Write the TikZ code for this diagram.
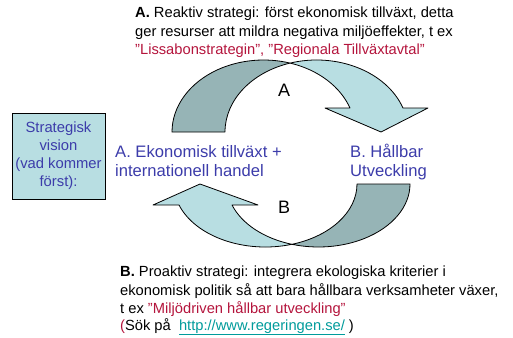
\documentclass[tikz,border=0pt]{standalone}
\usepackage{fontspec}
\setmainfont{Liberation Sans}
\definecolor{darkband}{HTML}{96B4B6}
\definecolor{lightband}{HTML}{B8DEE2}
\definecolor{bluetxt}{HTML}{3C3CAA}
\definecolor{redtxt}{HTML}{B4143C}
\definecolor{linktxt}{HTML}{009B9B}
\begin{document}
\begin{tikzpicture}[x=1pt,y=-1pt,
  band/.style={draw=black,line width=0.8pt,line join=round},
  darkpart/.style={band,fill=darkband},
  lightpart/.style={band,fill=lightband},
  txt/.style={anchor=base west,inner sep=0pt,font=\fontsize{14.7}{18}\selectfont},
  midtxt/.style={anchor=base west,inner sep=0pt,text=bluetxt,font=\fontsize{16.6}{19}\selectfont},
  letter/.style={inner sep=0pt,font=\fontsize{18}{20}\selectfont},
  visionbox/.style={draw=black,line width=0.8pt,fill=lightband,text=bluetxt,align=center,
    minimum width=93pt,minimum height=86pt,inner sep=0pt,font=\fontsize{14.8}{18}\selectfont}
]
\useasboundingbox (0,0) rectangle (513,337);

% ---------- upper curved arrow (A) ----------
\filldraw[darkpart] (172,132)
  arc[start angle=180,end angle=286.82,x radius=91.6,y radius=72] coordinate (topX)
  arc[start angle=253.18,end angle=180,x radius=91.6,y radius=72] -- cycle;
\coordinate (hA1) at (428,108);
\coordinate (hAtip) at (381,132);
\coordinate (hA2) at (325,108);
\filldraw[lightpart] (topX)
  arc[start angle=253.18,end angle=340.53,x radius=91.6,y radius=72]
  -- (hA1) -- (hAtip) -- (hA2) -- (349.96,108)
  arc[start angle=340.53,end angle=286.82,x radius=91.6,y radius=72] -- cycle;

% ---------- lower curved arrow (B) ----------
\filldraw[darkpart] (410,184)
  arc[start angle=0,end angle=106.82,x radius=91.6,y radius=63] coordinate (botX)
  arc[start angle=73.18,end angle=0,x radius=91.6,y radius=63] -- cycle;
\coordinate (hB1) at (153,205);
\coordinate (hBtip) at (200,184);
\coordinate (hB2) at (258,205);
\filldraw[lightpart] (botX)
  arc[start angle=73.18,end angle=160.53,x radius=91.6,y radius=63]
  -- (hB1) -- (hBtip) -- (hB2) -- (232.04,205)
  arc[start angle=160.53,end angle=106.82,x radius=91.6,y radius=63] -- cycle;

% ---------- letters ----------
\node[letter] (la) at (284,90) {A};
\node[letter] (lb) at (284,207) {B};

% ---------- middle texts ----------
\node[midtxt] (ea1) at (115,157) {A. Ekonomisk tillväxt +};
\node[midtxt] (ea2) at (115,176) {internationell handel};
\node[midtxt] (hb1) at (350,157) {B. Hållbar};
\node[midtxt] (hb2) at (350,176) {Utveckling};

% ---------- vision box ----------
\node[visionbox] (vision) at (58.5,156) {Strategisk\\vision\\(vad kommer\\först):};

% ---------- top text ----------
\node[txt] (ta1) at (135,18) {\textbf{A.} Reaktiv strategi: först ekonomisk tillväxt, detta};
\node[txt] (ta2) at (135,37) {ger resurser att mildra negativa miljöeffekter, t ex};
\node[txt,text=redtxt] (ta3) at (135,55) {”Lissabonstrategin”, ”Regionala Tillväxtavtal”};

% ---------- bottom text ----------
\node[txt] (tb1) at (120,276) {\textbf{B.} Proaktiv strategi: integrera ekologiska kriterier i};
\node[txt] (tb2) at (120,295) {ekonomisk politik så att bara hållbara verksamheter växer,};
\node[txt] (tb3) at (120,313) {t ex \textcolor{redtxt}{”Miljödriven hållbar utveckling”}};
\node[txt] (tb4) at (120,330) {\textcolor{redtxt}{(}Sök på\ \ \textcolor{linktxt}{\underline{http://www.regeringen.se/}} )};
\end{tikzpicture}
\end{document}
